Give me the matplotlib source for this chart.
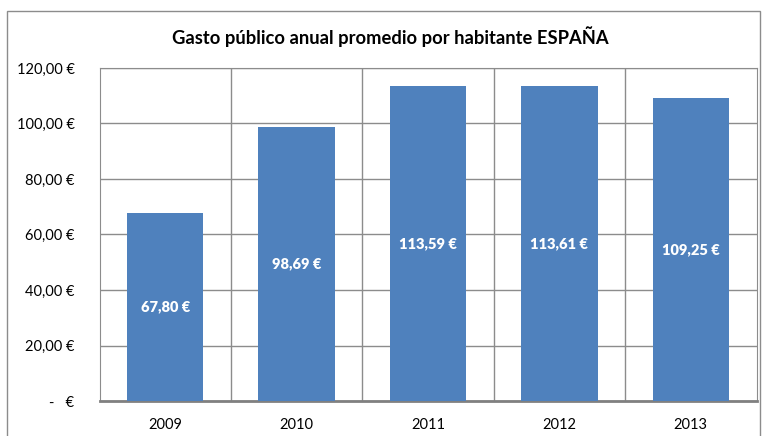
import matplotlib
matplotlib.use("Agg")
import matplotlib.pyplot as plt
from matplotlib.patches import Rectangle

plt.rcParams['font.family'] = ['Lato', 'DejaVu Sans']

# datos
anios = ['2009', '2010', '2011', '2012', '2013']
gasto = [67.80, 98.69, 113.59, 113.61, 109.25]
etiquetas = ['67,80 €', '98,69 €', '113,59 €', '113,61 €', '109,25 €']
yticks = [0, 20, 40, 60, 80, 100, 120]
ytick_labels = ['-   €', '20,00 €', '40,00 €', '60,00 €', '80,00 €', '100,00 €', '120,00 €']

W, H = 766, 436
fig = plt.figure(figsize=(W / 100, H / 100), dpi=100)

# marco del grafico
fig.patches.append(Rectangle((7 / W, -0.05), (760 - 7) / W, 1.05 - 11 / H,
                             transform=fig.transFigure, fill=False,
                             edgecolor='#8c8c8c', linewidth=1.0))

ax = fig.add_axes([99.5 / W, 1 - 401 / H, (756.5 - 99.5) / W, (401 - 68) / H])

x = list(range(len(anios)))
bars = ax.bar(x, gasto, width=0.58, color='#4F81BD', zorder=3)
for b, t in zip(bars, etiquetas):
    ax.text(b.get_x() + b.get_width() / 2, b.get_height() / 2, t,
            ha='center', va='center', color='white', fontsize=10.5,
            fontweight='heavy', zorder=4)

ax.set_xlim(-0.5, len(anios) - 0.5)
ax.set_ylim(0, 120)
ax.set_yticks(yticks)
ax.set_yticklabels(ytick_labels, fontsize=10.5)
ax.set_xticks(x)
ax.set_xticklabels(anios, fontsize=10.5)
ax.set_xticks([i + 0.5 for i in range(len(anios) - 1)], minor=True)

ax.grid(axis='y', color='#8c8c8c', linewidth=1.0, zorder=0)
ax.grid(axis='x', which='minor', color='#8c8c8c', linewidth=1.0, zorder=0)
ax.tick_params(axis='both', which='both', length=0)
ax.tick_params(axis='x', pad=12)
ax.tick_params(axis='y', pad=18)
for s in ['left', 'right', 'top']:
    ax.spines[s].set_color('#8c8c8c')
ax.spines['bottom'].set_color('#808080')
ax.spines['bottom'].set_linewidth(2)

fig.text(390 / W, 1 - 37 / H, 'Gasto público anual promedio por habitante ESPAÑA',
         ha='center', va='center', fontsize=13.2, fontweight='bold')

plt.savefig('out.png', dpi=100)
